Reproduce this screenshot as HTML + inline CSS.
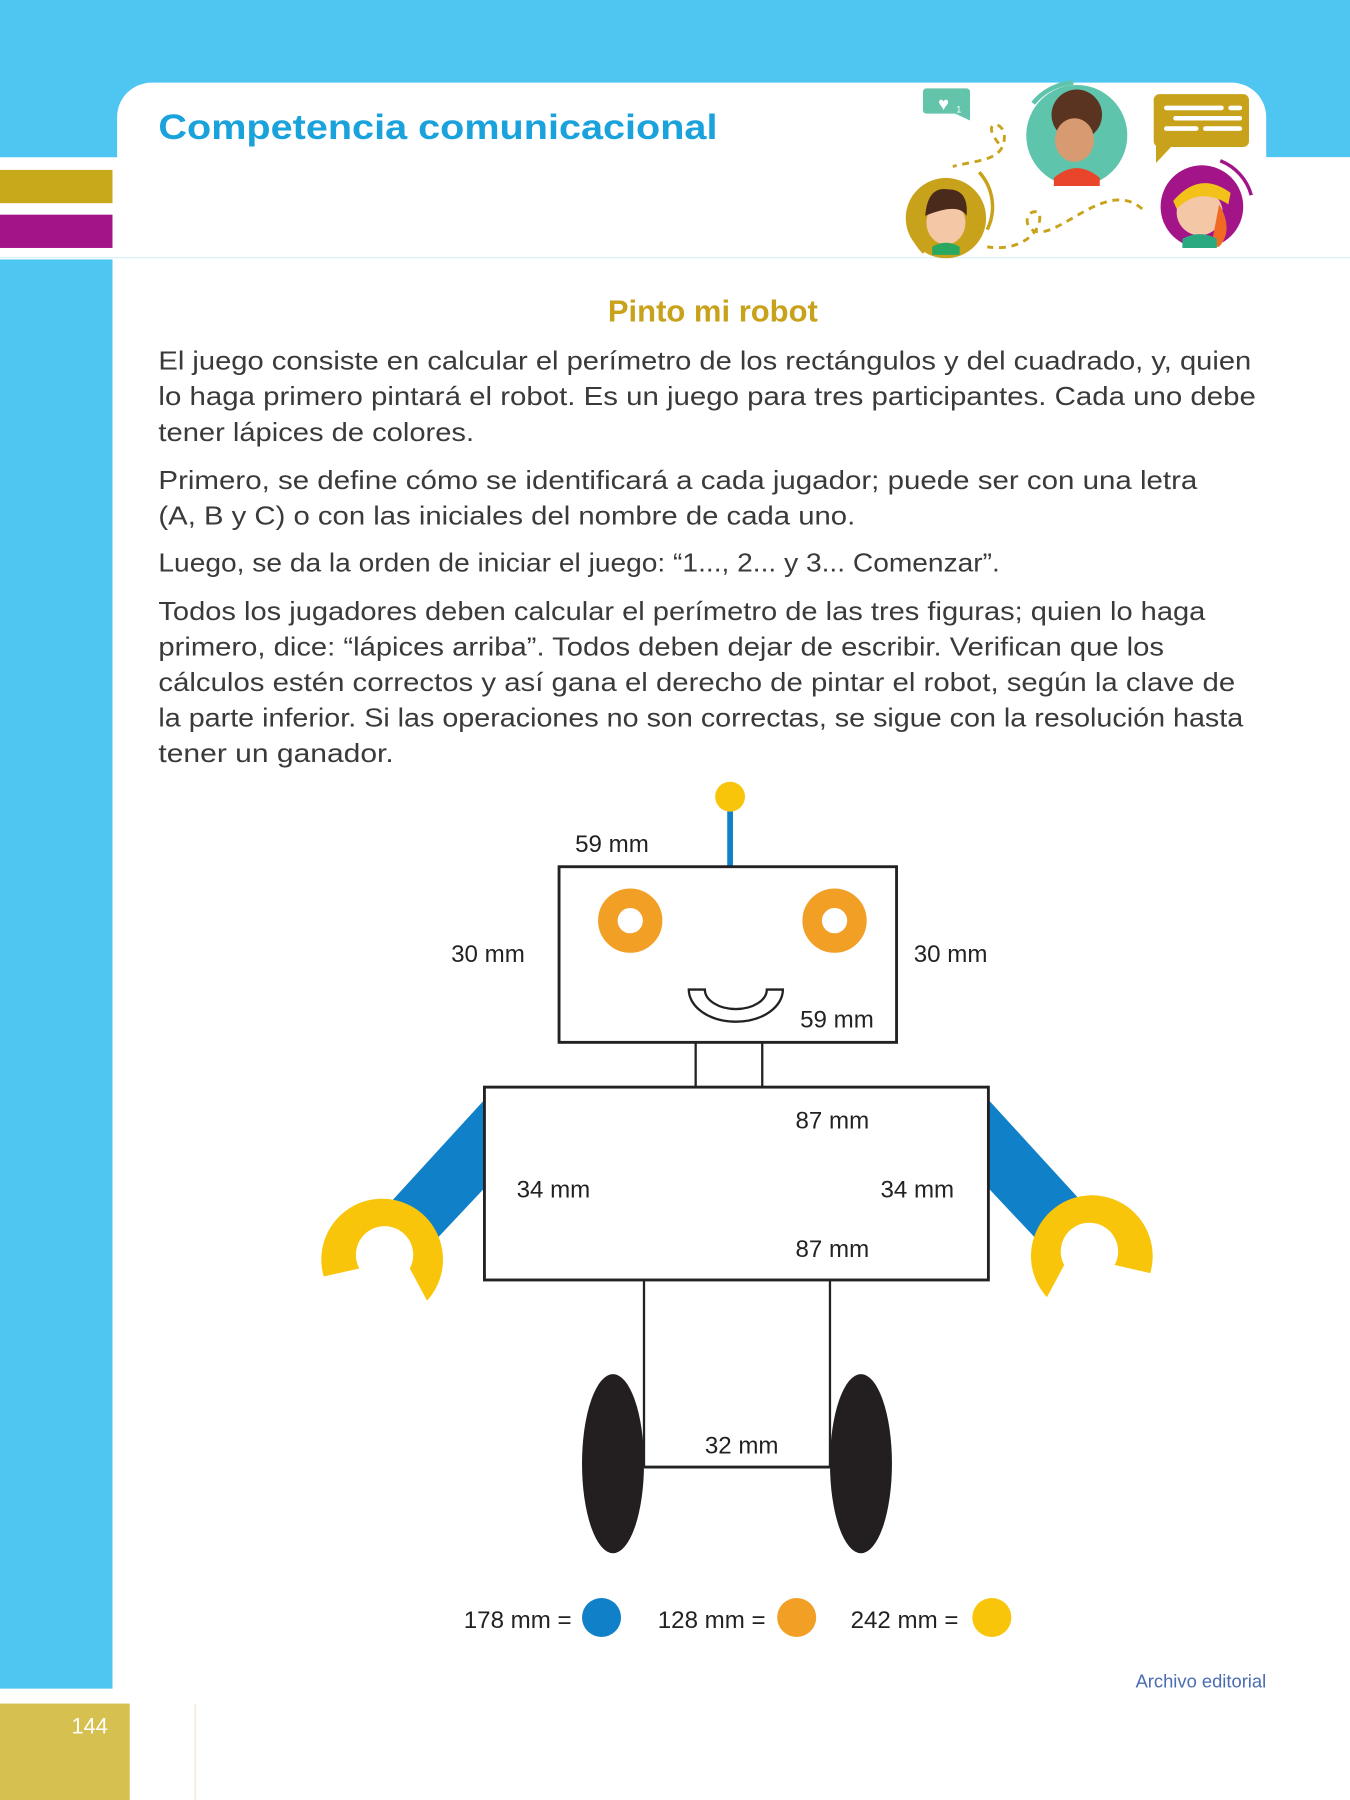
<!DOCTYPE html>
<html><head><meta charset="utf-8"><style>html,body{margin:0;padding:0;background:#fff}svg{display:block}</style></head>
<body>
<svg width="1350" height="1800" viewBox="0 0 1176 1568" xmlns="http://www.w3.org/2000/svg" font-family="'Liberation Sans', sans-serif">
<rect width="1176" height="1568" fill="#fff"/>
<rect x="0" y="0" width="1176" height="137" fill="#4fc6f2"/>
<rect x="0" y="226" width="98" height="1245" fill="#4fc6f2"/>
<path d="M102 224 V102 A30 30 0 0 1 132 72 H1073 A30 30 0 0 1 1103 102 V224 Z" fill="#fff"/>
<rect x="1103" y="137" width="73" height="90" fill="#fff"/>
<line x1="0" y1="224.5" x2="1176" y2="224.5" stroke="#d7eef7" stroke-width="1"/>
<rect x="0" y="148" width="98" height="29" fill="#c9a91c"/>
<rect x="0" y="187" width="98" height="29" fill="#a31489"/>
<rect x="0" y="1484" width="113" height="84" fill="#d6c050"/>
<text x="94" y="1510" font-size="19" fill="#fff" text-anchor="end">144</text>
<line x1="170" y1="1484" x2="170" y2="1568" stroke="#efe8c8" stroke-width="1"/>

<text x="138" y="121" font-size="31" font-weight="bold" fill="#1aa2dc" textLength="487" lengthAdjust="spacingAndGlyphs">Competencia comunicacional</text>

<g>
<rect x="804" y="77" width="41" height="22" rx="3" fill="#64c3ab"/>
<path d="M830 98 L845 105 L845 95 Z" fill="#64c3ab"/>
<text x="822" y="96" font-size="16" fill="#fff" text-anchor="middle">♥</text>
<text x="833" y="98" font-size="8" fill="#fff">1</text>
<path d="M870 125 C850 100 885 105 872 130 C865 140 850 140 830 145" fill="none" stroke="#c9a21c" stroke-width="2.5" stroke-dasharray="6 5"/>
<path d="M995 182 C970 160 940 190 915 200 C890 210 890 180 905 185 C910 200 890 220 860 215" fill="none" stroke="#c9a21c" stroke-width="2.5" stroke-dasharray="6 5"/>
<circle cx="938" cy="118" r="44" fill="#5ec4ac"/>
<path d="M900 90 A48 48 0 0 1 935 72" fill="none" stroke="#5ec4ac" stroke-width="4"/>
<circle cx="938" cy="100" r="22" fill="#5a3420"/>
<ellipse cx="936" cy="122" rx="17" ry="19" fill="#d89a70"/>
<path d="M918 155 Q938 138 958 155 L958 162 L918 162Z" fill="#e8452a"/>
<circle cx="824" cy="190" r="35" fill="#c9a21c"/>
<path d="M853 150 A45 45 0 0 1 860 200" fill="none" stroke="#c9a21c" stroke-width="3"/>
<path d="M795 205 A45 45 0 0 0 805 220" fill="none" stroke="#c9a21c" stroke-width="3"/>
<ellipse cx="824" cy="194" rx="17" ry="19" fill="#f4c7a6"/>
<path d="M806 188 Q808 162 826 165 Q844 165 842 188 Q835 176 806 188Z" fill="#4a2a1a"/>
<path d="M812 215 Q824 208 836 215 L836 222 L812 222Z" fill="#2aa860"/>
<rect x="1005" y="82" width="83" height="46" rx="5" fill="#c9a21c"/>
<path d="M1007 125 L1007 142 L1022 126Z" fill="#c9a21c"/>
<rect x="1014" y="92" width="52" height="4" rx="2" fill="#fff"/><rect x="1070" y="92" width="12" height="4" rx="2" fill="#fff"/>
<rect x="1022" y="101" width="60" height="4" rx="2" fill="#fff"/>
<rect x="1014" y="110" width="30" height="4" rx="2" fill="#fff"/><rect x="1048" y="110" width="34" height="4" rx="2" fill="#fff"/>
<circle cx="1047" cy="180" r="36" fill="#a31489"/>
<path d="M1063 140 A45 45 0 0 1 1090 170" fill="none" stroke="#a31489" stroke-width="3"/>
<ellipse cx="1045" cy="185" rx="20" ry="20" fill="#f4c7a6"/>
<path d="M1022 175 Q1045 148 1072 168 L1070 178 Q1045 162 1025 182Z" fill="#f2c21a"/>
<path d="M1062 178 Q1075 200 1062 215 L1055 215 Z" fill="#f06a24"/>
<path d="M1030 208 Q1045 200 1060 208 L1060 216 L1030 216Z" fill="#2aa880"/>
</g>

<text x="621" y="280" font-size="27" font-weight="bold" fill="#c9a21c" text-anchor="middle">Pinto mi robot</text>

<g font-size="22.5" fill="#3a3a3a">
<text x="138" y="322" textLength="952" lengthAdjust="spacingAndGlyphs">El juego consiste en calcular el perímetro de los rectángulos y del cuadrado, y, quien</text>
<text x="138" y="353" textLength="956" lengthAdjust="spacingAndGlyphs">lo haga primero pintará el robot. Es un juego para tres participantes. Cada uno debe</text>
<text x="138" y="384" textLength="275" lengthAdjust="spacingAndGlyphs">tener lápices de colores.</text>
<text x="138" y="426" textLength="905" lengthAdjust="spacingAndGlyphs">Primero, se define cómo se identificará a cada jugador; puede ser con una letra</text>
<text x="138" y="457" textLength="607" lengthAdjust="spacingAndGlyphs">(A, B y C) o con las iniciales del nombre de cada uno.</text>
<text x="138" y="498" textLength="733" lengthAdjust="spacingAndGlyphs">Luego, se da la orden de iniciar el juego: “1..., 2... y 3... Comenzar”.</text>
<text x="138" y="540" textLength="912" lengthAdjust="spacingAndGlyphs">Todos los jugadores deben calcular el perímetro de las tres figuras; quien lo haga</text>
<text x="138" y="571" textLength="876" lengthAdjust="spacingAndGlyphs">primero, dice: “lápices arriba”. Todos deben dejar de escribir. Verifican que los</text>
<text x="138" y="602" textLength="938" lengthAdjust="spacingAndGlyphs">cálculos estén correctos y así gana el derecho de pintar el robot, según la clave de</text>
<text x="138" y="633" textLength="945" lengthAdjust="spacingAndGlyphs">la parte inferior. Si las operaciones no son correctas, se sigue con la resolución hasta</text>
<text x="138" y="664" textLength="205" lengthAdjust="spacingAndGlyphs">tener un ganador.</text>
</g>

<line x1="636" y1="705" x2="636" y2="755" stroke="#1080c8" stroke-width="5"/>
<circle cx="636" cy="694" r="13" fill="#f8c50a"/>
<polygon points="422,958 422,1035 375,1085 336,1052" fill="#1080c8"/>
<polygon points="861,958 861,1035 908,1085 947,1052" fill="#1080c8"/>
<path id="hand" d="M282 1112 A53 53 0 1 1 372 1133 L357 1105 A25 25 0 1 0 313 1105 Z" fill="#f8c50a"/>
<g transform="translate(1284,-3) scale(-1,1)"><path d="M282 1112 A53 53 0 1 1 372 1133 L357 1105 A25 25 0 1 0 313 1105 Z" fill="#f8c50a"/></g>
<rect x="487" y="755" width="294" height="153" fill="#fff" stroke="#222" stroke-width="2.5"/>
<circle cx="549" cy="802" r="19.5" fill="none" stroke="#f29f26" stroke-width="17"/>
<circle cx="727" cy="802" r="19.5" fill="none" stroke="#f29f26" stroke-width="17"/>
<path d="M600 862 H614 A27 17 0 0 0 668 862 H682 A41 28 0 0 1 600 862Z" fill="#fff" stroke="#222" stroke-width="2"/>
<line x1="606" y1="908" x2="606" y2="947" stroke="#222" stroke-width="2"/>
<line x1="664" y1="908" x2="664" y2="947" stroke="#222" stroke-width="2"/>
<rect x="422" y="947" width="439" height="168" fill="#fff" stroke="#222" stroke-width="2.5"/>
<line x1="561" y1="1115" x2="561" y2="1278" stroke="#222" stroke-width="2"/>
<line x1="723" y1="1115" x2="723" y2="1278" stroke="#222" stroke-width="2"/>
<line x1="561" y1="1278" x2="723" y2="1278" stroke="#222" stroke-width="2.5"/>
<ellipse cx="534" cy="1275" rx="27" ry="78" fill="#231f20"/>
<ellipse cx="750" cy="1275" rx="27" ry="78" fill="#231f20"/>

<g font-size="21" fill="#222">
<text x="501" y="742">59 mm</text>
<text x="393" y="838">30 mm</text>
<text x="796" y="838">30 mm</text>
<text x="697" y="895">59 mm</text>
<text x="693" y="983">87 mm</text>
<text x="450" y="1043">34 mm</text>
<text x="767" y="1043">34 mm</text>
<text x="693" y="1095">87 mm</text>
<text x="614" y="1266">32 mm</text>
<text x="404" y="1418">178 mm =</text>
<text x="573" y="1418">128 mm =</text>
<text x="741" y="1418">242 mm =</text>
</g>
<circle cx="524" cy="1409" r="17" fill="#1080c8"/>
<circle cx="694" cy="1409" r="17" fill="#f29f26"/>
<circle cx="864" cy="1409" r="17" fill="#f8c50a"/>

<text x="1103" y="1470" font-size="16" fill="#4a6cb0" text-anchor="end">Archivo editorial</text>
</svg>
</body></html>
